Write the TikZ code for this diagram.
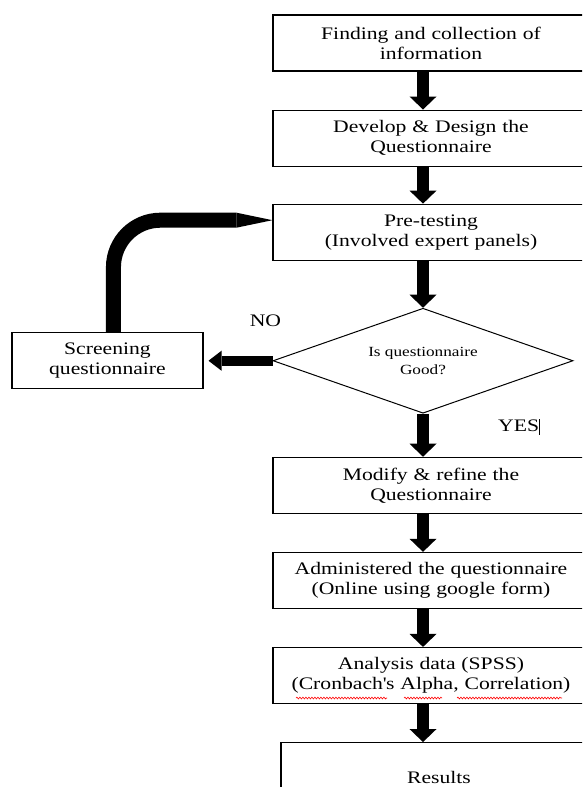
\documentclass[tikz,border=0pt]{standalone}
\usepackage{fontspec}
\setmainfont[FakeStretch=1.23]{Liberation Serif}
\usetikzlibrary{positioning,shapes.geometric,arrows.meta,decorations.pathmorphing}

\begin{document}
\begin{tikzpicture}[x=1pt,y=1pt,node distance=38pt,
    procbox/.style={rectangle,draw,line width=1.1pt,minimum width=316pt,minimum height=56pt,
      text width=306pt,align=center,inner sep=2pt,font=\fontsize{17.6}{20}\selectfont},
    decision/.style={diamond,draw,line width=1pt,aspect=2.86,minimum width=300pt,
      minimum height=105pt,inner sep=0pt,align=center,font=\fontsize{14}{18}\selectfont},
    flow/.style={line width=12pt,-{Triangle[length=13pt 0 0,width=27pt 0 0,line width=0pt]}},
    noflow/.style={line width=10pt,-{Triangle[length=13pt 0 0,width=20pt 0 0,line width=0pt]},
      shorten >=5pt},
    backflow/.style={line width=15pt,rounded corners=47pt,
      -{Triangle[length=36pt 0 0,width=15pt 0 0,line width=0pt]}},
    spell/.style={red,line width=0.6pt,decorate,
      decoration={snake,amplitude=0.9pt,segment length=3pt}},
    lbl/.style={font=\fontsize{17.6}{20}\selectfont}]
  \useasboundingbox (0,0) rectangle (582,787);
  \clip (0,0) rectangle (582,787);

  \node[procbox] (find) at (431,744) {Finding and collection of\\information};
  \node[procbox,below=38pt of find] (design) {Develop \& Design the\\Questionnaire};
  \node[procbox,below=37pt of design] (pretest) {Pre-testing\\(Involved expert panels)};
  \node[decision,below=47pt of pretest,xshift=-8pt] (quest) {Is questionnaire\\Good?};
  \node[procbox,below=43pt of quest,xshift=8pt] (modify) {Modify \& refine the\\Questionnaire};
  \node[procbox,below=38pt of modify] (admin) {Administered the questionnaire\\(Online using google form)};
  \node[procbox,below=38pt of admin] (analysis) {Analysis data (SPSS)\\(Cronbach\textquotesingle s Alpha, Correlation)};
  \node[procbox,below=38pt of analysis,xshift=8pt,minimum height=70pt] (results) {Results};
  \node[procbox,left=69pt of quest,minimum width=191pt,text width=181pt] (screen) {Screening\\questionnaire};

  \node[lbl] (no) at ([xshift=-7pt,yshift=40pt]quest.west) {NO};
  \node[lbl] (yes) at ([xshift=96pt,yshift=-13pt]quest.south) {YES\rule[-3pt]{0.8pt}{16pt}};

  % main flow
  \foreach \a/\b in {find/design,design/pretest,pretest/quest,quest/modify,
                     modify/admin,admin/analysis,analysis/results}
    \draw[flow] (\a.south -| quest) -- (\b.north -| quest);

  % NO branch and back to pre-testing
  \draw[noflow] (quest.west) -- (screen.east);
  \draw[backflow] ([xshift=6pt]screen.north) |- ([yshift=12pt]pretest.west);

  % spell check marks
  \draw[spell] ([xshift=-135pt,yshift=6pt]analysis.south) -- ++(91pt,0);
  \draw[spell] ([xshift=-27pt,yshift=6pt]analysis.south) -- ++(38pt,0);
  \draw[spell] ([xshift=26pt,yshift=6pt]analysis.south) -- ++(105pt,0);
\end{tikzpicture}
\end{document}
